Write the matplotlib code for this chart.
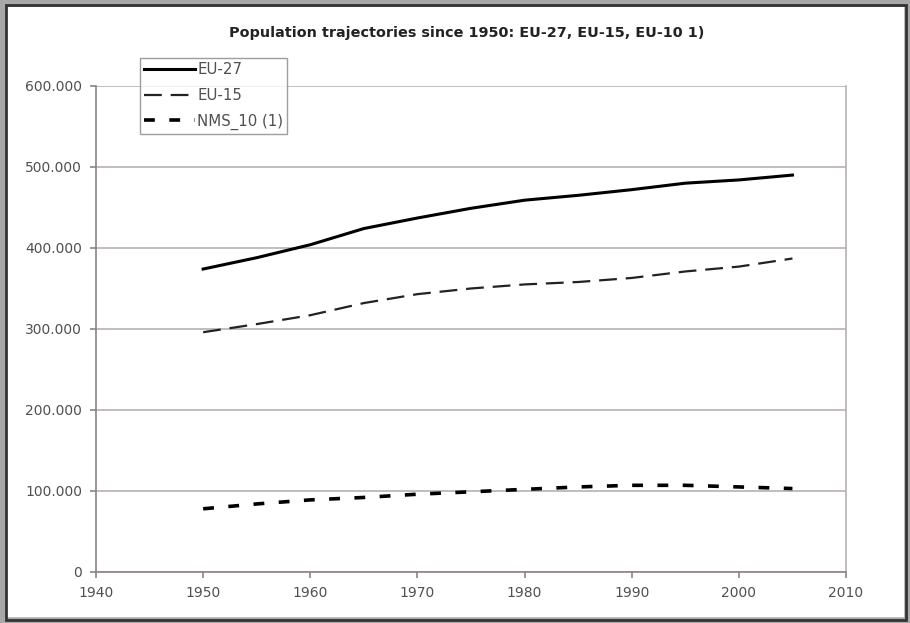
""" Population trajectories since 1950: EU-27, EU-15, NMS-10
"""

import matplotlib.pyplot as plt
import matplotlib.patches as mpatches

years = [1950, 1955, 1960, 1965, 1970, 1975, 1980, 1985, 1990, 1995, 2000, 2005]
eu27 = [374, 388, 404, 424, 437, 449, 459, 465, 472, 480, 484, 490]
eu15 = [296, 306, 317, 332, 343, 350, 355, 358, 363, 371, 377, 387]
nms10 = [78, 84, 89, 92, 96, 99, 102, 105, 107, 107, 105, 103]

x_ticks = [1940, 1950, 1960, 1970, 1980, 1990, 2000, 2010]
y_ticks = [0, 100, 200, 300, 400, 500, 600]
y_labels = ['0', '100.000', '200.000', '300.000', '400.000', '500.000', '600.000']

GRID = '#b8b0ae'
AXIS = '#8c8482'
TXT = '#505050'

fig = plt.figure(figsize=(9.1, 6.23), dpi=100)
ax = fig.add_axes([0.1055, 0.0819, 0.8242, 0.7801])

ax.plot(years, eu27, color='black', linewidth=2.2, label='EU-27')
ax.plot(years, eu15, color='#222222', linewidth=1.6, dashes=(8, 4),
        label='EU-15')
ax.plot(years, nms10, color='black', linewidth=2.6, dashes=(3, 4),
        label='NMS_10 (1)')

ax.set_xlim(1940, 2010)
ax.set_ylim(0, 600)
ax.set_xticks(x_ticks)
ax.set_yticks(y_ticks)
ax.set_yticklabels(y_labels)
ax.yaxis.grid(True, color=GRID, linewidth=1.2)
ax.set_axisbelow(True)

for side in ['left', 'bottom']:
    ax.spines[side].set_color(AXIS)
    ax.spines[side].set_linewidth(1.2)
ax.spines['right'].set_color(GRID)
ax.spines['right'].set_linewidth(1.2)
ax.spines['top'].set_visible(False)
ax.tick_params(colors=AXIS, labelcolor=TXT, labelsize=10, length=4,
               width=1.2, pad=6)

leg = ax.legend(loc='upper left', bbox_to_anchor=(0.059, 1.057),
                frameon=True, fancybox=False, fontsize=10.8,
                handlelength=3.4, handletextpad=0.15, borderpad=0.25,
                labelspacing=0.72, borderaxespad=0)
leg.get_frame().set_edgecolor('#8c8482')
leg.get_frame().set_linewidth(1.0)
for t in leg.get_texts():
    t.set_color(TXT)

fig.text(0.513, 0.947, 'Population trajectories since 1950: EU-27, EU-15, EU-10 1)',
         ha='center', va='center', fontsize=10.4, fontweight='bold',
         color='#222222')

# picture frame
fig.patches.append(mpatches.Rectangle((0, 0), 1, 1, transform=fig.transFigure,
                                      fill=False, edgecolor='#a8a8a8',
                                      linewidth=9))
fig.patches.append(mpatches.Rectangle((0.0066, 0.005), 0.989, 0.987,
                                      transform=fig.transFigure, fill=False,
                                      edgecolor='#333333', linewidth=2))

fig.savefig('out.png')
